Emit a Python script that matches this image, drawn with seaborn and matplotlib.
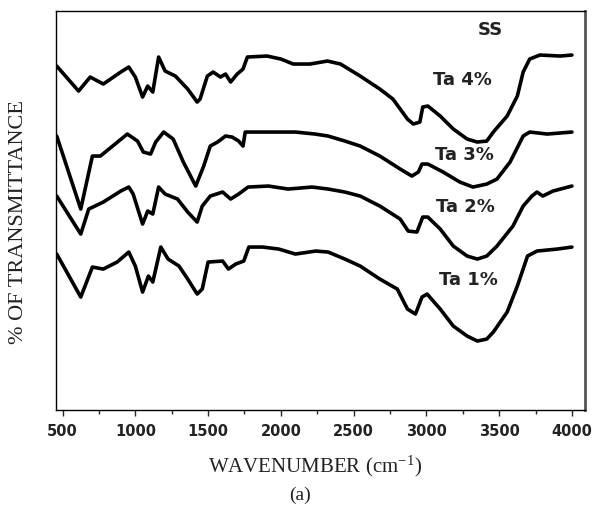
import seaborn as sns
import matplotlib.pyplot as plt
from matplotlib.ticker import MultipleLocator

# FTIR spectra (transmittance in arbitrary offset units)
wn_ta4 = [460, 610, 690, 780, 900, 955, 1000, 1050, 1085, 1120, 1160, 1205, 1275, 1360, 1425,
          1445, 1495, 1535, 1585, 1620, 1655, 1700, 1740, 1770, 1905, 2000, 2085, 2200, 2320, 2410,
          2545, 2680, 2770, 2870, 2910, 2955, 2975, 3010, 3095, 3185, 3280, 3350, 3415, 3460, 3555,
          3625, 3665, 3710, 3780, 3920, 4000]
t_ta4 = [344, 319, 333, 326, 338, 343, 333, 313, 324, 318, 353, 339, 334, 321, 308,
         311, 334, 338, 333, 336, 328, 336, 341, 353, 354, 351, 346, 346, 349, 346,
         334, 321, 311, 291, 286, 288, 303, 304, 294, 281, 271, 268, 269, 278, 294,
         314, 338, 351, 355, 354, 355]

wn_ta3 = [460, 625, 705, 760, 945, 1015, 1055, 1105, 1140, 1195, 1260, 1330, 1415, 1470, 1515,
          1565, 1620, 1665, 1710, 1740, 1755, 1875, 2100, 2235, 2325, 2440, 2545, 2680, 2820, 2900,
          2945, 2970, 3010, 3115, 3230, 3320, 3415, 3485, 3575, 3665, 3710, 3830, 4000]
t_ta3 = [274, 201, 254, 254, 276, 269, 258, 256, 268, 278, 271, 248, 224, 244, 264,
         268, 274, 273, 269, 264, 278, 278, 278, 276, 274, 269, 264, 254, 241, 234,
         238, 246, 246, 238, 228, 223, 226, 231, 248, 274, 278, 276, 278]

wn_ta2 = [460, 625, 680, 780, 900, 955, 985, 1050, 1085, 1120, 1160, 1205, 1290, 1360, 1425,
          1460, 1515, 1600, 1655, 1710, 1775, 1915, 2050, 2215, 2325, 2440, 2545, 2680, 2820, 2875,
          2935, 2975, 3010, 3095, 3185, 3280, 3350, 3415, 3485, 3595, 3665, 3725, 3760, 3800, 3870,
          4000]
t_ta2 = [214, 176, 201, 208, 219, 223, 216, 186, 199, 196, 223, 216, 211, 198, 188,
         204, 214, 218, 211, 216, 223, 224, 221, 223, 221, 218, 214, 204, 191, 179,
         178, 193, 193, 181, 164, 154, 151, 154, 164, 184, 204, 214, 218, 214, 219,
         224]

wn_ta1 = [460, 625, 705, 780, 875, 955, 1000, 1050, 1090, 1120, 1175, 1225, 1300, 1360, 1425,
          1460, 1500, 1600, 1640, 1690, 1745, 1780, 1875, 1985, 2100, 2240, 2325, 2440, 2545, 2680,
          2800, 2870, 2925, 2970, 3005, 3095, 3185, 3280, 3350, 3415, 3460, 3555, 3625, 3695, 3760,
          3900, 4000]
t_ta1 = [156, 113, 143, 141, 148, 158, 144, 118, 134, 128, 163, 151, 144, 131, 116,
         121, 148, 149, 141, 146, 149, 163, 163, 161, 156, 159, 158, 151, 144, 131,
         121, 101, 96, 113, 116, 101, 84, 74, 69, 71, 78, 98, 124, 154, 159,
         161, 163]

labels = ['Ta 4%', 'Ta 3%', 'Ta 2%', 'Ta 1%']
label_x = [3250, 3260, 3265, 3290]
label_y = [331, 256, 204, 131]
xticks = [500, 1000, 1500, 2000, 2500, 3000, 3500, 4000]

sns.set_style('white')
plt.rcParams['mathtext.fontset'] = 'stix'

fig = plt.figure(figsize=(5.92, 5.10), dpi=100, facecolor='w')
ax = fig.add_axes([0.0946, 0.194, 0.8936, 0.7824])

for wn, t in [(wn_ta4, t_ta4), (wn_ta3, t_ta3), (wn_ta2, t_ta2), (wn_ta1, t_ta1)]:
    sns.lineplot(x=wn, y=t, color='black', linewidth=2.6, estimator=None,
                 sort=False, ax=ax)

for lab, lx, ly in zip(labels, label_x, label_y):
    ax.text(lx, ly, lab, ha='center', va='center', fontsize=13,
            fontweight='bold', family='DejaVu Sans', color='#222222')
ax.text(3440, 381, 'SS', ha='center', va='center', fontsize=13,
        fontweight='bold', family='DejaVu Sans', color='#222222')

ax.set_xlim(455, 4090)
ax.set_ylim(0, 399)
ax.set_xticks(xticks)
ax.xaxis.set_minor_locator(MultipleLocator(250))
ax.set_yticks([])
ax.set_xlabel('')
ax.set_ylabel('')
ax.tick_params(axis='x', which='major', direction='out', length=4, width=1,
               bottom=True, pad=5, labelsize=10.5, labelcolor='#222222')
ax.tick_params(axis='x', which='minor', direction='out', length=3, width=1,
               bottom=True)
for lab in ax.get_xticklabels():
    lab.set_fontweight('bold')
    lab.set_family('DejaVu Sans')

for side in ['top', 'left', 'bottom']:
    ax.spines[side].set_color('black')
    ax.spines[side].set_linewidth(1)
ax.spines['right'].set_color('#555555')
ax.spines['right'].set_linewidth(2)

fig.text(19 / 592, 1 - 222 / 510, '% OF TRANSMITTANCE', rotation=90,
         ha='center', va='center', fontsize=16, family='Liberation Serif',
         color='#222222')
fig.text(315 / 592, 1 - 466 / 510, 'WAVENUMBER (cm$^{\\mathregular{-1}}$)',
         ha='center', va='center', fontsize=15, family='Liberation Serif',
         color='#222222')
fig.text(300 / 592, 1 - 495 / 510, '(a)', ha='center', va='center',
         fontsize=14, family='Liberation Serif', color='#222222')

fig.savefig('out.png', dpi=100, facecolor='w')
plt.close(fig)
